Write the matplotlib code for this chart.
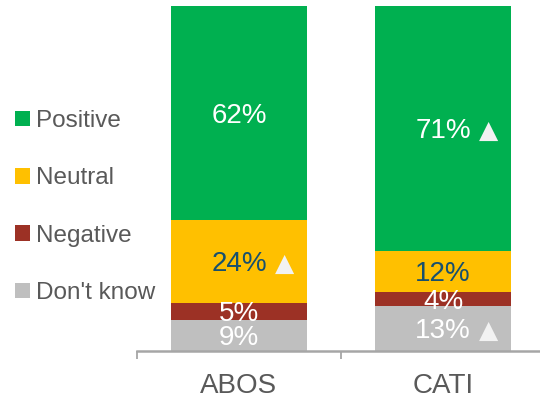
import matplotlib
matplotlib.use('Agg')
import matplotlib.pyplot as plt
from matplotlib.patches import Patch

plt.rcParams['font.family'] = ['Liberation Sans', 'DejaVu Sans']

groups = ['ABOS', 'CATI']
series = ["Don't know", 'Negative', 'Neutral', 'Positive']
values = {
    "Don't know": [9, 13],
    'Negative': [5, 4],
    'Neutral': [24, 12],
    'Positive': [62, 71],
}
# significant change markers (shown as a triangle after the label)
flags = {
    "Don't know": [False, True],
    'Negative': [False, False],
    'Neutral': [True, False],
    'Positive': [False, True],
}
colors = {
    "Don't know": '#BFBFBF',
    'Negative': '#9C3125',
    'Neutral': '#FFC000',
    'Positive': '#00B050',
}
text_colors = {
    "Don't know": 'white',
    'Negative': 'white',
    'Neutral': '#17506E',
    'Positive': 'white',
}

fig = plt.figure(figsize=(5.40, 4.01), dpi=100)
W, H = 540, 401
ax = fig.add_axes([137 / W, 50 / H, 408 / W, 345 / H])

x = list(range(len(groups)))
bottom = [0, 0]
for s in series:
    ax.bar(x, values[s], width=0.667, bottom=bottom, color=colors[s],
           edgecolor='none', zorder=2)
    for i, v in enumerate(values[s]):
        yc = bottom[i] + v / 2
        ax.annotate(f'{v}%', (x[i], yc), xytext=(0, -2), textcoords='offset points',
                    ha='center', va='center', fontsize=20,
                    color=text_colors[s], zorder=3)
        if flags[s][i]:
            ax.annotate('▲', (x[i], yc), xytext=(33, -2), textcoords='offset points',
                        ha='center', va='center', fontsize=18,
                        family='DejaVu Sans', color='#F2F2F2', zorder=3)
    bottom = [b + v for b, v in zip(bottom, values[s])]

ax.set_xlim(-0.5, 1.5)
ax.set_ylim(0, 100)
ax.set_yticks([])
ax.set_xticks([-0.5, 0.5, 1.5])
ax.set_xticklabels([])
ax.set_xticks(x, minor=True)
ax.set_xticklabels(groups, minor=True, fontsize=20, color='#595959')
ax.tick_params(axis='x', which='major', direction='out', length=6, width=1.3,
               color='#A6A6A6')
ax.tick_params(axis='x', which='minor', length=0, pad=16)
for side in ['top', 'right', 'left']:
    ax.spines[side].set_visible(False)
ax.spines['bottom'].set_color('#A6A6A6')
ax.spines['bottom'].set_linewidth(1.8)
ax.patch.set_alpha(0)

handles = [Patch(facecolor=colors[s], edgecolor='none', label=s)
           for s in reversed(series)]
fig.legend(handles=handles, loc='center left',
           bbox_to_anchor=(15 / W, 194 / H), frameon=False,
           fontsize=17.5, labelcolor='#595959', handlelength=0.6,
           handleheight=0.6, handletextpad=0.25, labelspacing=1.45,
           borderpad=0, borderaxespad=0)

fig.savefig('out.png', dpi=100)
